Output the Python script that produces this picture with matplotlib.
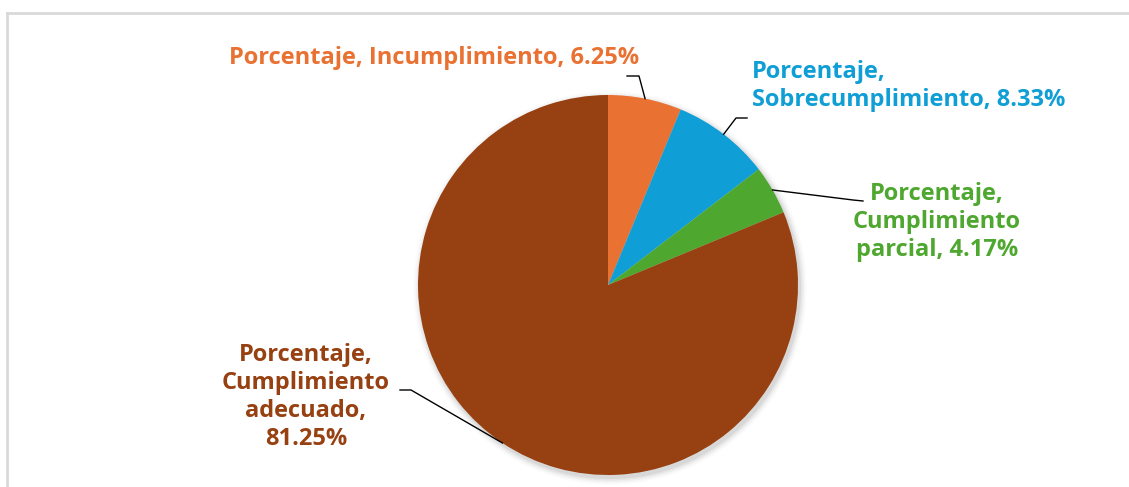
import numpy as np
import matplotlib
matplotlib.use("Agg")
import matplotlib.pyplot as plt
from matplotlib.patches import Circle

# ---- data ----
categories = ["Incumplimiento", "Sobrecumplimiento", "Cumplimiento parcial", "Cumplimiento adecuado"]
values = [6.25, 8.33, 4.17, 81.25]
labels = [
    "Porcentaje, Incumplimiento, 6.25%",
    "Porcentaje,\nSobrecumplimiento, 8.33%",
    "Porcentaje,\nCumplimiento\nparcial, 4.17%",
    "Porcentaje,\nCumplimiento\nadecuado,\n81.25%",
]
colors = ["#E97132", "#0F9ED5", "#4EA72E", "#974011"]

W, H = 1129, 487
fig = plt.figure(figsize=(W / 100, H / 100), dpi=100)
ax = fig.add_axes([0, 0, 1, 1])

def Y(y):
    return H - y

cx, cy, R = 608, Y(285), 190

# soft shadow
for i, a in enumerate([0.05, 0.04, 0.03, 0.02, 0.012]):
    ax.add_patch(Circle((cx + 2, cy - 3), R + 1 + i * 1.5, color="black", alpha=a, lw=0, zorder=1))

wedges, _ = ax.pie(values, colors=colors, startangle=90, counterclock=False,
                   center=(cx, cy), radius=R, frame=True,
                   wedgeprops=dict(linewidth=0, zorder=2))
ax.set_xlim(0, W)
ax.set_ylim(0, H)
ax.set_aspect("auto")
ax.axis("off")

font = dict(family="Open Sans", fontweight="bold", fontsize=17)

# label layout: (text x, text y, ha, elbow points in pixel coords)
layout = [
    dict(xy=(434, 58), ha="center", elbow=[(639, 76), (627, 76)]),
    dict(xy=(752, 86), ha="left", elbow=[(736, 118), (747, 118)]),
    dict(xy=(937, 222), ha="center", elbow=[(853, 200), (863, 201)]),
    dict(xy=(306, 397), ha="center", elbow=[(411, 390), (400, 390)]),
]

for w, lab, col, lay in zip(wedges, labels, colors, layout):
    mid = np.deg2rad((w.theta1 + w.theta2) / 2)
    sx, sy = cx + R * np.cos(mid), cy + R * np.sin(mid)
    xs = [sx] + [p[0] for p in lay["elbow"]]
    ys = [sy] + [Y(p[1]) for p in lay["elbow"]]
    ax.plot(xs, ys, color="black", lw=1.0, zorder=3)
    ax.text(lay["xy"][0], Y(lay["xy"][1]), lab, color=col, ha=lay["ha"], va="center",
            multialignment="center" if lay["ha"] == "center" else "left",
            linespacing=1.22, zorder=4, **font)

# chart frame (top and left edges visible)
ax.plot([7, W], [Y(12.5), Y(12.5)], color="#D9D9D9", lw=2, zorder=0)
ax.plot([7, 7], [Y(12.5), 0], color="#D9D9D9", lw=2, zorder=0)

fig.savefig("out.png", dpi=100)
